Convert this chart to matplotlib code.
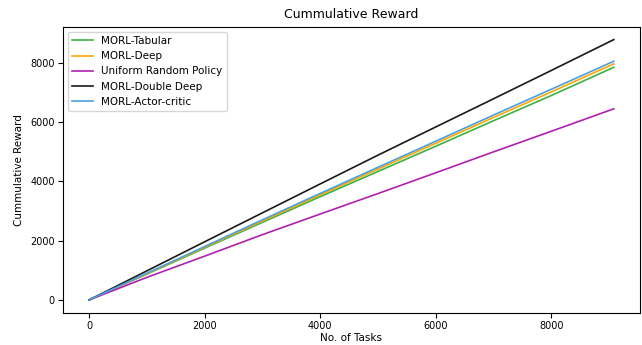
import numpy as np
import matplotlib.pyplot as plt

# number of tasks at which cumulative reward was sampled
tasks = [0, 1000, 2000, 3000, 4000, 5000, 6000, 7000, 8000, 9080]

tabular = [0, 870, 1745, 2615, 3480, 4330, 5180, 6040, 6890, 7840]
deep = [0, 885, 1775, 2660, 3540, 4410, 5280, 6150, 7010, 7955]
uniform = [0, 760, 1475, 2200, 2895, 3585, 4285, 4990, 5685, 6440]
double_deep = [0, 980, 1960, 2935, 3910, 4880, 5830, 6780, 7735, 8773]
actor_critic = [0, 900, 1800, 2700, 3590, 4470, 5350, 6230, 7100, 8044]

lw = 1.2
plt.figure(figsize=(6.42, 3.45), dpi=100)
plt.plot(tasks, tabular, color='#3cb043', lw=lw, label='MORL-Tabular')
plt.plot(tasks, deep, color='#ffa500', lw=lw, label='MORL-Deep')
plt.plot(tasks, uniform, color='#b020b0', lw=lw, label='Uniform Random Policy')
plt.plot(tasks, double_deep, color='#1a1a1a', lw=lw, label='MORL-Double Deep')
plt.plot(tasks, actor_critic, color='#4aa0e0', lw=lw, label='MORL-Actor-critic')
plt.xticks([0, 2000, 4000, 6000, 8000], fontsize=7)
plt.yticks([0, 2000, 4000, 6000, 8000], fontsize=7)
plt.tick_params(pad=2.5)
plt.xlabel('No. of Tasks', fontsize=7.5, labelpad=1)
plt.ylabel('Cummulative Reward', fontsize=7.5)
plt.title('Cummulative Reward', fontsize=9)
plt.legend(fontsize=7.5, loc='upper left')
plt.subplots_adjust(left=0.098, right=0.997, bottom=0.093, top=0.923)
plt.savefig('out.png', dpi=100)
